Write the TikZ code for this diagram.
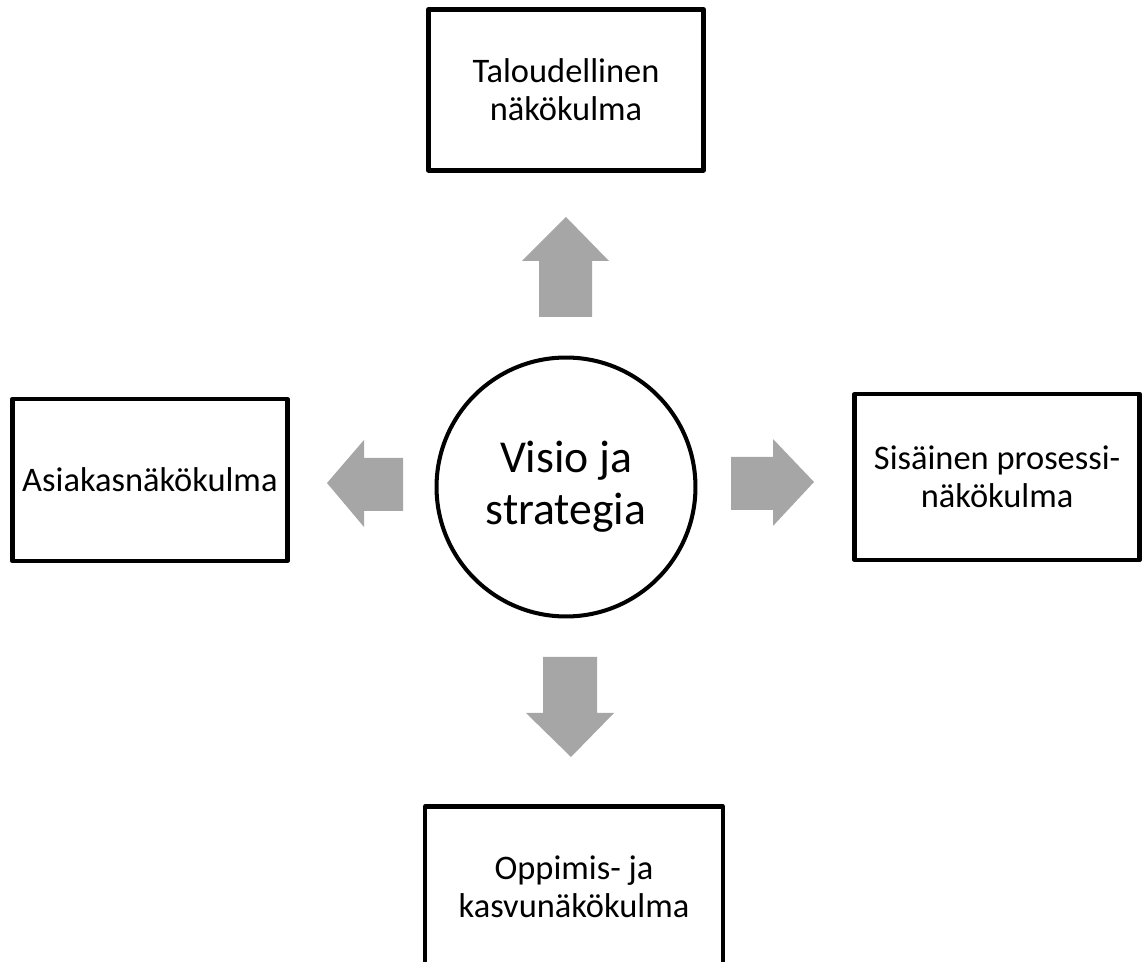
\documentclass[tikz,border=0pt]{standalone}
\usepackage{fontspec}
\setmainfont{Carlito}
\usetikzlibrary{positioning}
\begin{document}
\begin{tikzpicture}[x=0.02cm, y=-0.02cm]
      \clip (0,0) rectangle (1147,962);
      \begin{scope}[every node/.style={draw, line width=2.5pt, line join=round, inner sep=2pt, align=center, font=\fontsize{19.6pt}{21.5pt}\selectfont}]
        \node (V) [circle, line width=2.3pt, minimum size=5.18cm, font=\fontsize{26pt}{29.5pt}\selectfont] at (566,487) {Visio ja\\strategia};
        \node (T) [minimum width=5.5cm, minimum height=3.22cm, above=3.66cm of V] {Taloudellinen\\näkökulma};
        \node (A) [minimum width=5.5cm, minimum height=3.24cm, left=2.9cm of V, yshift=0.14cm] {Asiakasnäkökulma};
        \node (S) [minimum width=5.7cm, minimum height=3.32cm, right=3.1cm of V, yshift=0.2cm] {Sisäinen prosessi-\\näkökulma};
        \node (O) [minimum width=5.96cm, minimum height=3.22cm, below=3.72cm of V, xshift=0.16cm] {Oppimis- ja\\kasvunäkökulma};
      \end{scope}
      \begin{scope}[every path/.style={fill=black!35}]
        % up
        \fill (539,317) -- (539,261) -- (522,261) -- (566,217) -- (609,261) -- (592,261) -- (592,317) -- cycle;
        % left
        \fill (403,458) -- (364,458) -- (364,440) -- (327,483) -- (364,527) -- (364,511) -- (403,511) -- cycle;
        % right
        \fill (731,457) -- (773,457) -- (773,439) -- (814,482) -- (773,526) -- (773,510) -- (731,510) -- cycle;
        % down
        \fill (543,657) -- (597,657) -- (597,713) -- (614,713) -- (571,757) -- (526,713) -- (543,713) -- cycle;
      \end{scope}
    \end{tikzpicture}
\end{document}
